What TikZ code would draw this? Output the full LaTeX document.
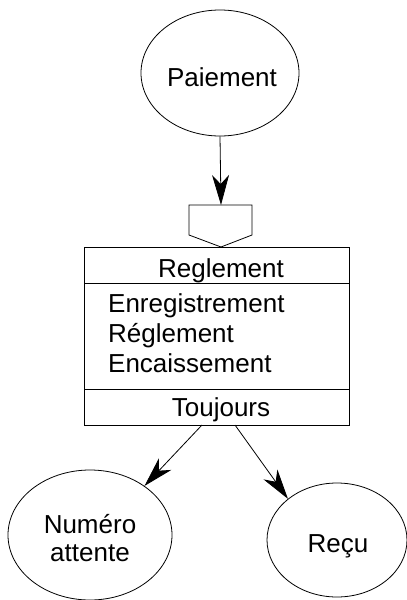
\documentclass[tikz,border=0pt]{standalone}
\usepackage{fontspec}
\setmainfont{Liberation Sans}
\usetikzlibrary{shapes.geometric,arrows.meta}
\tikzset{
  ln/.style={line width=0.8pt},
  ell/.style={draw, ln, ellipse, inner sep=0pt},
  txt/.style={inner sep=0pt, font=\fontsize{26}{29}\selectfont, anchor=base},
  ltxt/.style={txt, anchor=base west},
  part/.style={draw, ln, inner sep=0pt, minimum width=265pt, anchor=north west},
  arr/.style={ln, -{Stealth[length=30pt, width=17pt, inset=9pt]}}
}
\begin{document}
\begin{tikzpicture}[x=1pt,y=-1pt]
\useasboundingbox (0,0) rectangle (407,600);
% ellipses
\node[ell, minimum width=158pt, minimum height=126pt] (pai) at (220,73) {};
\node[txt] (paitxt) at (222,86) {Paiement};
\node[ell, minimum width=164pt, minimum height=130pt] (num) at (90,535) {};
\node[txt] (numtxt1) at (90,533) {Numéro};
\node[txt] (numtxt2) at (90,561) {attente};
\node[ell, minimum width=140pt, minimum height=114pt] (rec) at (337,540) {};
\node[txt] (rectxt) at (338,552) {Reçu};
% box
\node[part, minimum height=36pt] (title) at (84,247) {};
\node[part, minimum height=106pt] (body) at (84,283) {};
\node[part, minimum height=36pt] (foot) at (84,389) {};
\node[txt] (titletxt) at (221,277) {Reglement};
\node[ltxt] (b1) at (108,312) {Enregistrement};
\node[ltxt] (b2) at (108,342) {Réglement};
\node[ltxt] (b3) at (108,372) {Encaissement};
\node[txt] (foottxt) at (221,416) {Toujours};
% pentagon
\draw[ln] (189,205) -- (252,205) -- (252,235) -- (221,247) -- (189,235) -- cycle;
\coordinate (pentop) at (221,205);
\coordinate (la) at (202,425);
\coordinate (ra) at (235,425);
% connectors
\draw[arr] (pai.south) -- (pentop);
\draw[arr] (la) -- (num.42);
\draw[arr] (ra) -- (rec.140);
\end{tikzpicture}
\end{document}
